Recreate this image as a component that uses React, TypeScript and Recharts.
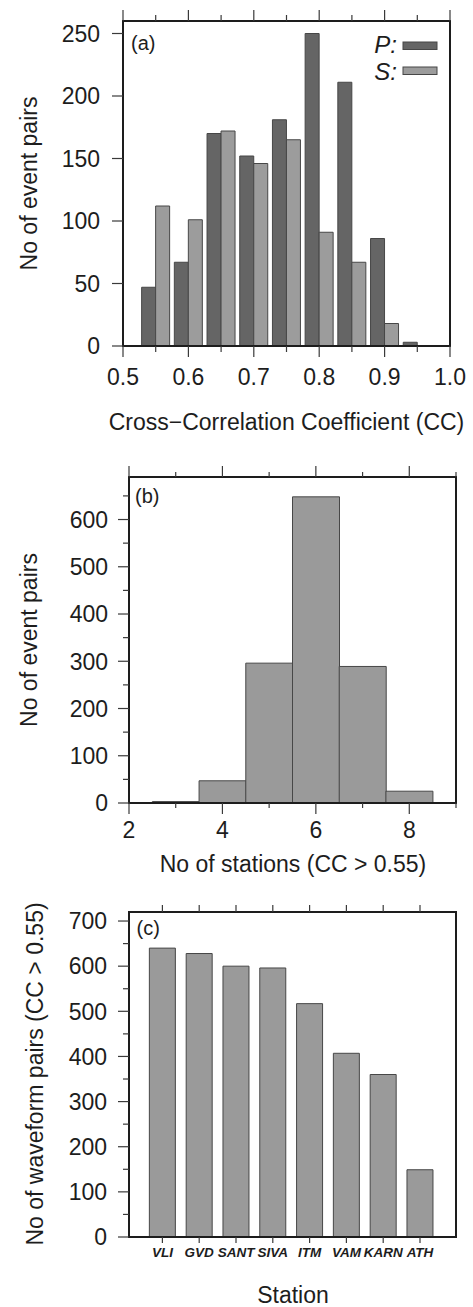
import { Bar, BarChart, Legend, XAxis, YAxis } from "recharts";

const FONT = "'Liberation Sans', Arial, Helvetica, sans-serif";
const FS = 23;
const INK = "#1d1d1d";
const TICK = "#3a3a3a";
const FRAME = { stroke: INK, strokeWidth: 2, strokeLinecap: "square" as const };
const P_FILL = "#656565";
const S_FILL = "#9c9c9c";
const BAR_FILL = "#9a9a9a";
const BAR_EDGE = "#474747";

// (a) event pairs per cross-correlation bin, P and S phases
const ccBins = [0.55, 0.6, 0.65, 0.7, 0.75, 0.8, 0.85, 0.9, 0.95];
const pCounts = [47, 67, 170, 152, 181, 250, 211, 86, 3];
const sCounts = [112, 101, 172, 146, 165, 91, 67, 18, 0];
const ccTicks = [0.5, 0.55, 0.6, 0.65, 0.7, 0.75, 0.8, 0.85, 0.9, 0.95, 1.0];
const ccMajor = [0.5, 0.6, 0.7, 0.8, 0.9, 1.0];
const pairTicksA = [0, 50, 100, 150, 200, 250];

// (b) event pairs by number of stations with CC > 0.55
const stationCounts = [3, 4, 5, 6, 7, 8];
const pairsByCount = [3, 47, 296, 648, 289, 25];
const countTicks = [2, 3, 4, 5, 6, 7, 8, 9];
const countMajor = [2, 4, 6, 8];
const pairTicksB = [0, 50, 100, 150, 200, 250, 300, 350, 400, 450, 500, 550, 600, 650];
const pairMajorB = [0, 100, 200, 300, 400, 500, 600];

// (c) waveform pairs per station
const stations = ["VLI", "GVD", "SANT", "SIVA", "ITM", "VAM", "KARN", "ATH"];
const waveformPairs = [640, 628, 600, 596, 517, 407, 360, 149];
const pairTicksC = [0, 50, 100, 150, 200, 250, 300, 350, 400, 450, 500, 550, 600, 650, 700];
const pairMajorC = [0, 100, 200, 300, 400, 500, 600, 700];

const histA = ccBins.map((cc, i) => ({ cc, p: pCounts[i], s: sCounts[i] }));
const histB = stationCounts.map((n, i) => ({ n, pairs: pairsByCount[i] }));
const barsC = stations.map((station, i) => ({ station, pairs: waveformPairs[i] }));

type Side = "top" | "bottom" | "left" | "right";

interface TickOpts {
  side: Side;
  major?: (number | string)[];
  long?: number;
  short?: number;
  labels?: boolean;
  gap?: number;
  fontSize?: number;
  bold?: boolean;
  italic?: boolean;
  format?: (v: any) => string;
}

// ticks sit outside the frame; long ones on major values, short ones between
function axisTick(o: TickOpts) {
  const long = o.long ?? 11;
  const short = o.short ?? 6;
  const fs = o.fontSize ?? FS;
  return (props: any) => {
    const { x, y, payload } = props;
    const v = payload.value;
    const isMajor =
      !o.major ||
      o.major.some((m) => (typeof m === "number" ? Math.abs(m - Number(v)) < 1e-9 : m === v));
    const len = isMajor ? long : short;
    let x2 = x;
    let y2 = y;
    if (o.side === "bottom") y2 = y + len;
    if (o.side === "top") y2 = y - len;
    if (o.side === "left") x2 = x - len;
    if (o.side === "right") x2 = x + len;
    const text = o.format ? o.format(v) : String(v);
    const gap = o.gap ?? 0;
    return (
      <g>
        <line x1={x} y1={y} x2={x2} y2={y2} stroke={TICK} strokeWidth={1.2} />
        {o.labels && isMajor && (
          <text
            x={o.side === "left" ? x - gap : x}
            y={o.side === "left" ? y + fs * 0.36 : y + gap}
            textAnchor={o.side === "left" ? "end" : "middle"}
            fontFamily={FONT}
            fontSize={fs}
            fontWeight={o.bold ? 700 : 400}
            fontStyle={o.italic ? "italic" : "normal"}
            fill={INK}
          >
            {text}
          </text>
        )}
      </g>
    );
  };
}

const yTitle = (text: string, bx: number, cy: number) => () => (
  <text
    transform={`translate(${bx},${cy}) rotate(-90)`}
    textAnchor="middle"
    fontFamily={FONT}
    fontSize={FS}
    fill={INK}
  >
    {text}
  </text>
);

const xTitle = (text: string, cx: number, by: number) => () => (
  <text x={cx} y={by} textAnchor="middle" fontFamily={FONT} fontSize={FS} fill={INK}>
    {text}
  </text>
);

const panelTag = (text: string, lx: number, by: number) => () => (
  <text x={lx} y={by} fontFamily={FONT} fontSize={20} fill={INK}>
    {text}
  </text>
);

function PhaseLegend() {
  const rows = [
    { name: "P", fill: P_FILL, base: 25, top: 14 },
    { name: "S", fill: S_FILL, base: 52, top: 39 },
  ];
  return (
    <svg width={90} height={60} style={{ display: "block" }}>
      {rows.map((r) => (
        <g key={r.name}>
          <text x={37} y={r.base} textAnchor="end" fontFamily={FONT} fontSize={24} fontStyle="italic" fill={INK}>
            {r.name + ":"}
          </text>
          <rect x={43} y={r.top} width={34} height={7.5} fill={r.fill} stroke={BAR_EDGE} strokeWidth={1} />
        </g>
      ))}
    </svg>
  );
}

function CcHistogram() {
  return (
    <BarChart width={473} height={440} data={histA} margin={{ top: 0, right: 0, bottom: 0, left: 0 }} barGap={0} barCategoryGap="7%">
      <XAxis
        dataKey="cc"
        type="number"
        domain={[0.5, 1.0]}
        ticks={ccTicks}
        interval={0}
        height={94}
        axisLine={FRAME}
        tickLine={false}
        tickSize={0}
        tickMargin={0}
        tick={axisTick({ side: "bottom", major: ccMajor, labels: true, gap: 39, format: (v) => Number(v).toFixed(1) })}
        label={xTitle("Cross\u2212Correlation Coefficient (CC)", 286.5, 430)}
      />
      <XAxis
        xAxisId="top"
        orientation="top"
        dataKey="cc"
        type="number"
        domain={[0.5, 1.0]}
        ticks={ccTicks}
        interval={0}
        height={21}
        axisLine={FRAME}
        tickLine={false}
        tickSize={0}
        tickMargin={0}
        tick={axisTick({ side: "top", major: ccMajor })}
        label={panelTag("(a)", 131, 50)}
      />
      <YAxis
        type="number"
        domain={[0, 260]}
        ticks={pairTicksA}
        interval={0}
        width={123}
        axisLine={FRAME}
        tickLine={false}
        tickSize={0}
        tickMargin={0}
        tick={axisTick({ side: "left", labels: true, gap: 23 })}
        label={yTitle("No of event pairs", 37.3, 183.5)}
      />
      <YAxis
        yAxisId="right"
        orientation="right"
        type="number"
        domain={[0, 260]}
        ticks={pairTicksA}
        interval={0}
        width={23}
        axisLine={FRAME}
        tickLine={false}
        tickSize={0}
        tickMargin={0}
        tick={axisTick({ side: "right", long: 10 })}
      />
      <Legend
        layout="horizontal"
        verticalAlign="middle"
        align="center"
        wrapperStyle={{ top: 28, left: 360, width: 90, height: 60 }}
        content={() => <PhaseLegend />}
      />
      <Bar dataKey="p" name="P" fill={P_FILL} stroke={BAR_EDGE} strokeWidth={1} isAnimationActive={false} />
      <Bar dataKey="s" name="S" fill={S_FILL} stroke={BAR_EDGE} strokeWidth={1} isAnimationActive={false} />
    </BarChart>
  );
}

function StationCountHistogram() {
  return (
    <BarChart width={473} height={440} data={histB} margin={{ top: 0, right: 0, bottom: 0, left: 0 }} barGap={0} barCategoryGap={0}>
      <XAxis
        dataKey="n"
        type="number"
        domain={[2, 9]}
        ticks={countTicks}
        interval={0}
        height={77}
        axisLine={FRAME}
        tickLine={false}
        tickSize={0}
        tickMargin={0}
        tick={axisTick({ side: "bottom", major: countMajor, labels: true, gap: 35, short: 5 })}
        label={xTitle("No of stations (CC > 0.55)", 293, 431.5)}
      />
      <XAxis
        xAxisId="top"
        orientation="top"
        dataKey="n"
        type="number"
        domain={[2, 9]}
        ticks={countTicks}
        interval={0}
        height={37}
        axisLine={FRAME}
        tickLine={false}
        tickSize={0}
        tickMargin={0}
        tick={axisTick({ side: "top", major: countMajor, short: 5 })}
        label={panelTag("(b)", 135, 62.5)}
      />
      <YAxis
        type="number"
        domain={[0, 690]}
        ticks={pairTicksB}
        interval={0}
        width={129}
        axisLine={FRAME}
        tickLine={false}
        tickSize={0}
        tickMargin={0}
        tick={axisTick({ side: "left", major: pairMajorB, labels: true, gap: 21 })}
        label={yTitle("No of event pairs", 37.3, 200)}
      />
      <YAxis
        yAxisId="right"
        orientation="right"
        type="number"
        domain={[0, 690]}
        ticks={pairTicksB}
        interval={0}
        width={17}
        axisLine={FRAME}
        tickLine={false}
        tickSize={0}
        tickMargin={0}
        tick={axisTick({ side: "right", major: pairMajorB, short: 5 })}
      />
      <Bar dataKey="pairs" fill={BAR_FILL} stroke={BAR_EDGE} strokeWidth={1} isAnimationActive={false} />
    </BarChart>
  );
}

function StationBars() {
  return (
    <BarChart width={473} height={427} data={barsC} margin={{ top: 0, right: 0, bottom: 0, left: 0 }} barCategoryGap="14.6%">
      <XAxis
        dataKey="station"
        type="category"
        padding={{ left: 15, right: 17.6 }}
        interval={0}
        height={70}
        axisLine={FRAME}
        tickLine={false}
        tickSize={0}
        tickMargin={0}
        tick={axisTick({ side: "bottom", long: 6, labels: true, gap: 20, fontSize: 13.5, bold: true, italic: true })}
        label={xTitle("Station", 293, 423)}
      />
      <XAxis
        xAxisId="top"
        orientation="top"
        dataKey="station"
        type="category"
        padding={{ left: 15, right: 17.6 }}
        interval={0}
        height={32}
        axisLine={FRAME}
        tickLine={false}
        tickSize={0}
        tickMargin={0}
        tick={axisTick({ side: "top", long: 7 })}
        label={panelTag("(c)", 136.5, 55)}
      />
      <YAxis
        type="number"
        domain={[0, 720]}
        ticks={pairTicksC}
        interval={0}
        width={129}
        axisLine={FRAME}
        tickLine={false}
        tickSize={0}
        tickMargin={0}
        tick={axisTick({ side: "left", major: pairMajorC, labels: true, gap: 22 })}
        label={yTitle("No of waveform pairs (CC > 0.55)", 43.3, 194)}
      />
      <YAxis
        yAxisId="right"
        orientation="right"
        type="number"
        domain={[0, 720]}
        ticks={pairTicksC}
        interval={0}
        width={17}
        axisLine={FRAME}
        tickLine={false}
        tickSize={0}
        tickMargin={0}
        tick={axisTick({ side: "right", major: pairMajorC, short: 5 })}
      />
      <Bar dataKey="pairs" fill={BAR_FILL} stroke={BAR_EDGE} strokeWidth={1} isAnimationActive={false} />
    </BarChart>
  );
}

export default function App() {
  return (
    <div style={{ position: "absolute", left: 0, top: 0, width: 473, height: 1307, background: "#fff", fontFamily: FONT }}>
      <div style={{ position: "absolute", left: 0, top: 0 }}>
        <CcHistogram />
      </div>
      <div style={{ position: "absolute", left: 0, top: 440 }}>
        <StationCountHistogram />
      </div>
      <div style={{ position: "absolute", left: 0, top: 880 }}>
        <StationBars />
      </div>
    </div>
  );
}
